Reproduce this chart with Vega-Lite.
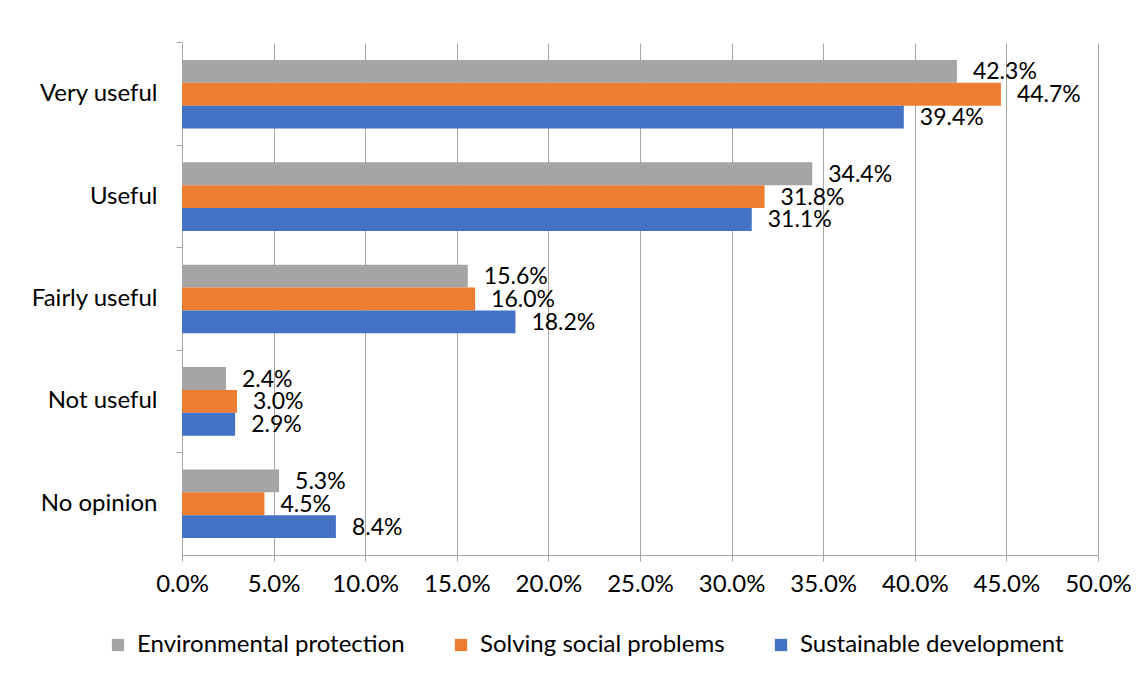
{
  "$schema": "https://vega.github.io/schema/vega-lite/v6.json",
  "width": 916,
  "height": 512,
  "autosize": {"type": "none"},
  "padding": {"left": 182, "top": 43, "right": 48, "bottom": 123},
  "background": "white",
  "config": {
    "view": {"stroke": null},
    "font": "Lato",
    "axis": {"labelFont": "Lato", "labelFontSize": 24, "labelColor": "#000000", "domainColor": "#A6A6A6", "tickColor": "#A6A6A6", "gridColor": "#A6A6A6", "title": null},
    "legend": {"labelFont": "Lato", "labelFontSize": 24, "labelColor": "#000000", "labelLimit": 0}
  },
  "data": {
    "values": [
      {"category": "Very useful", "series": "Environmental protection", "value": 0.423},
      {"category": "Very useful", "series": "Solving social problems", "value": 0.447},
      {"category": "Very useful", "series": "Sustainable development", "value": 0.394},
      {"category": "Useful", "series": "Environmental protection", "value": 0.344},
      {"category": "Useful", "series": "Solving social problems", "value": 0.318},
      {"category": "Useful", "series": "Sustainable development", "value": 0.311},
      {"category": "Fairly useful", "series": "Environmental protection", "value": 0.156},
      {"category": "Fairly useful", "series": "Solving social problems", "value": 0.160},
      {"category": "Fairly useful", "series": "Sustainable development", "value": 0.182},
      {"category": "Not useful", "series": "Environmental protection", "value": 0.024},
      {"category": "Not useful", "series": "Solving social problems", "value": 0.030},
      {"category": "Not useful", "series": "Sustainable development", "value": 0.029},
      {"category": "No opinion", "series": "Environmental protection", "value": 0.053},
      {"category": "No opinion", "series": "Solving social problems", "value": 0.045},
      {"category": "No opinion", "series": "Sustainable development", "value": 0.084}
    ]
  },
  "encoding": {
    "y": {
      "field": "category", "type": "nominal",
      "sort": ["Very useful", "Useful", "Fairly useful", "Not useful", "No opinion"],
      "scale": {"paddingInner": 0.33, "paddingOuter": 0.165},
      "axis": {"domain": true, "ticks": true, "tickSize": 6, "bandPosition": -0.2464, "labelPadding": 19, "grid": false}
    },
    "yOffset": {
      "field": "series", "type": "nominal",
      "sort": ["Environmental protection", "Solving social problems", "Sustainable development"],
      "scale": {"paddingInner": 0, "paddingOuter": 0}
    },
    "x": {
      "field": "value", "type": "quantitative",
      "scale": {"domain": [0, 0.5], "nice": false},
      "axis": {"format": ".1%", "values": [0, 0.05, 0.1, 0.15, 0.2, 0.25, 0.3, 0.35, 0.4, 0.45, 0.5], "grid": true, "tickSize": 6, "labelPadding": 11, "labelFlush": false}
    }
  },
  "layer": [
    {
      "mark": {"type": "bar"},
      "encoding": {
        "color": {
          "field": "series", "type": "nominal",
          "scale": {"domain": ["Environmental protection", "Solving social problems", "Sustainable development"], "range": ["#A5A5A5", "#ED7D31", "#4472C4"]},
          "legend": {"orient": "none", "legendX": -76, "legendY": 590, "direction": "horizontal", "title": null, "symbolType": "square", "symbolSize": 150, "symbolStrokeWidth": 0, "columnPadding": 44, "labelOffset": 7}
        }
      }
    },
    {
      "mark": {"type": "text", "align": "left", "baseline": "middle", "dx": 16, "dy": 1, "fontSize": 23, "color": "#000000"},
      "encoding": {
        "text": {"field": "value", "type": "quantitative", "format": ".1%"}
      }
    }
  ]
}
